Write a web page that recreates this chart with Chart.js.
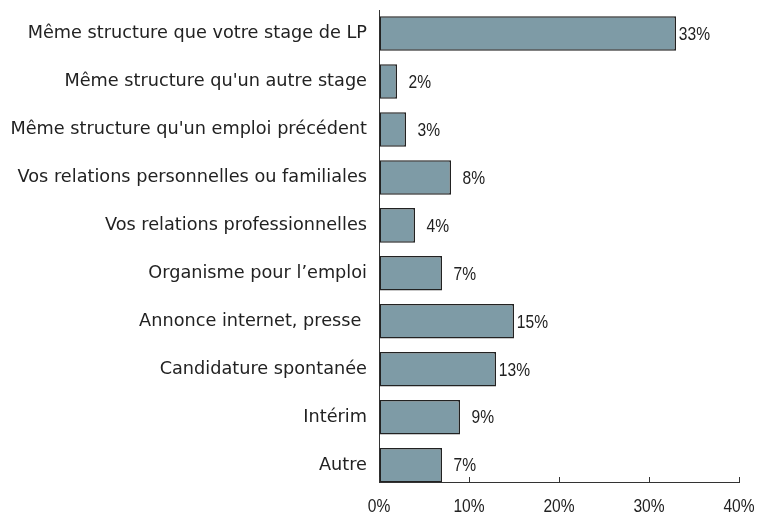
<!DOCTYPE html>
<html><head><meta charset="utf-8">
<script src="https://cdn.jsdelivr.net/npm/chart.js@4"></script>
<style>html,body{margin:0;padding:0;background:#fff}#wrap{width:758px;height:513px}</style>
</head><body><div id="wrap"><canvas id="c" width="758" height="513"></canvas></div>
<script>
const categories = [
  "Même structure que votre stage de LP",
  "Même structure qu'un autre stage",
  "Même structure qu'un emploi précédent",
  "Vos relations personnelles ou familiales",
  "Vos relations professionnelles",
  "Organisme pour l\u2019emploi",
  "Annonce internet, presse ",
  "Candidature spontanée",
  "Intérim",
  "Autre"
];
const values = [33, 2, 3, 8, 4, 7, 15, 13, 9, 7];
const xTicks = [0, 10, 20, 30, 40];
const positions = categories.map((_, i) => i);
const FONT = "'DejaVu Sans', sans-serif";
const NFONT = "'Liberation Sans', Arial, sans-serif";
const SX = 0.82; // horizontal squeeze to imitate the condensed face

function drawNarrow(ctx, text, x, y, align, baseline) {
  ctx.save();
  ctx.font = '19px ' + NFONT;
  ctx.fillStyle = '#222';
  ctx.textAlign = align;
  ctx.textBaseline = baseline;
  ctx.scale(SX, 1);
  ctx.fillText(text, x / SX, y);
  ctx.restore();
}

const valueLabelPlugin = {
  id: 'valueLabels',
  afterDatasetsDraw(chart) {
    const meta = chart.getDatasetMeta(0);
    meta.data.forEach((bar, i) => {
      drawNarrow(chart.ctx, values[i] + '%', bar.x + 34, bar.y + 1, 'right', 'middle');
    });
  }
};
const xAxisPlugin = {
  id: 'xAxisMarks',
  afterDraw(chart) {
    const xs = chart.scales.x;
    const ctx = chart.ctx;
    const y = chart.chartArea.bottom;
    ctx.save();
    ctx.strokeStyle = '#333';
    ctx.lineWidth = 1;
    xs.ticks.forEach((t, i) => {
      const px = Math.round(xs.getPixelForTick(i)) + 0.5;
      ctx.beginPath();
      ctx.moveTo(px, y);
      ctx.lineTo(px, y - 5);
      ctx.stroke();
    });
    ctx.restore();
    xs.ticks.forEach((t, i) => {
      drawNarrow(ctx, t.value + '%', xs.getPixelForTick(i), y + 30, 'center', 'alphabetic');
    });
  }
};

new Chart(document.getElementById('c'), {
  type: 'bar',
  data: {
    datasets: [{
      data: values.map((v, i) => ({ x: v, y: positions[i] })),
      backgroundColor: '#7e9ba6',
      borderColor: '#222',
      borderWidth: 1.5,
      borderSkipped: false,
      categoryPercentage: 1,
      barPercentage: 0.72
    }]
  },
  options: {
    responsive: false,
    animation: false,
    indexAxis: 'y',
    layout: { padding: { top: 10, right: 19, bottom: 0, left: 0 } },
    plugins: { legend: { display: false }, tooltip: { enabled: false } },
    scales: {
      x: {
        type: 'linear',
        position: 'bottom',
        min: 0, max: 40,
        afterBuildTicks: s => { s.ticks = xTicks.map(v => ({ value: v })); s.min = 0; s.max = 40; },
        afterFit: s => { s.height = 31; s.paddingLeft = 0; s.paddingRight = 0; },
        ticks: { display: false },
        grid: { drawOnChartArea: false, drawTicks: false },
        border: { display: true, color: '#333', width: 1 }
      },
      y: {
        type: 'linear',
        reverse: true,
        offset: false,
        min: -0.49, max: 9.35,
        afterBuildTicks: s => { s.ticks = positions.map(v => ({ value: v })); s.min = -0.49; s.max = 9.35; },
        afterFit: s => { s.width = 379; s.paddingTop = 0; s.paddingBottom = 0; },
        ticks: { callback: v => categories[v], font: { family: FONT, size: 17.7 }, color: '#222', padding: 12, autoSkip: false },
        grid: { drawOnChartArea: false, drawTicks: false, offset: false },
        border: { display: true, color: '#333', width: 1 }
      }
    }
  },
  plugins: [valueLabelPlugin, xAxisPlugin]
});
</script>
</body></html>
